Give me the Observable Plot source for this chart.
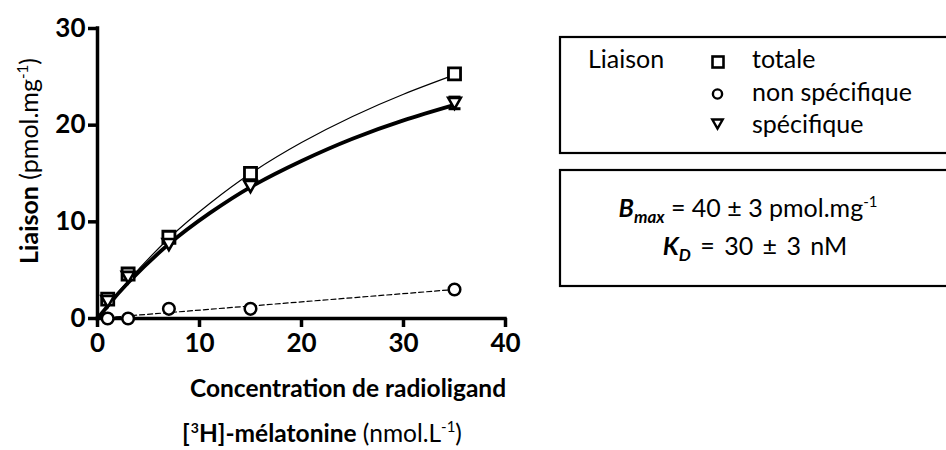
<!DOCTYPE html>
<html>
<head>
<meta charset="utf-8">
<script src="https://cdn.jsdelivr.net/npm/d3@7"></script>
<script src="https://cdn.jsdelivr.net/npm/@observablehq/plot@0.6"></script>
<style>
  html, body { margin: 0; padding: 0; background: #fff; }
  #wrap { position: relative; width: 946px; height: 450px; overflow: hidden; }
  #wrap svg { position: absolute; left: 0; top: 0; }
</style>
</head>
<body>
<div id="wrap"></div>
<script>
// ---- data ----
const conc = [1, 3, 7, 15, 35];                 // nmol/L
const totale = [2.0, 4.6, 8.4, 15.0, 25.3];
const nonSpecifique = [0.0, 0.0, 1.0, 1.0, 3.0];
const specifique = [1.8, 4.3, 7.7, 13.7, 22.3];
const specErr = [0, 0, 0, 0, 0.6];

// fitted curves
const fitX = [0, 1, 3, 7, 11, 15, 20, 25, 30, 35];
const totFit = [0, 1.4, 3.9, 8.3, 11.9, 15.0, 18.2, 20.9, 23.2, 25.2];
const specFit = [0, 1.3, 3.7, 7.7, 10.9, 13.6, 16.3, 18.6, 20.5, 22.1];
const nsFitX = [1, 35];
const nsFit = [0.1, 3.0];

const xTicks = [0, 10, 20, 30, 40];
const yTicks = [0, 10, 20, 30];

const legendLabels = ["totale", "non spécifique", "spécifique"];

// ---- tables ----
const pts = conc.map((c, i) => ({c, tot: totale[i], ns: nonSpecifique[i], sp: specifique[i], err: specErr[i]}));
const totLine = fitX.map((c, i) => ({c, v: totFit[i]}));
const spLine = fitX.map((c, i) => ({c, v: specFit[i]}));
const nsLine = nsFitX.map((c, i) => ({c, v: nsFit[i]}));
const errPts = pts.filter(d => d.err > 0);

const triDown = {
  draw(ctx, size) {
    const t = Math.sqrt(size / Math.PI);
    ctx.moveTo(-t, -t * 0.8);
    ctx.lineTo(t, -t * 0.8);
    ctx.lineTo(0, t * 0.95);
    ctx.closePath();
  }
};
const capSym = {
  draw(ctx, size) {
    const t = Math.sqrt(size / Math.PI);
    ctx.moveTo(-t, 0);
    ctx.lineTo(t, 0);
  }
};

const FONT = "Lato, 'Open Sans', sans-serif";

const chart = Plot.plot({
  width: 946,
  height: 450,
  marginLeft: 97,
  marginRight: 441,
  marginTop: 28,
  marginBottom: 132,
  x: {domain: [0, 40]},
  y: {domain: [0, 30]},
  style: {fontFamily: FONT, fontWeight: "bold", fontSize: "26px", color: "#000", background: "transparent"},
  marks: [
    Plot.axisX({ticks: xTicks, tickSize: 9, tickPadding: 6, strokeWidth: 3.5, label: null, fontSize: 26}),
    Plot.axisY({ticks: yTicks, tickSize: 9, tickPadding: 3, strokeWidth: 3.5, label: null, fontSize: 26}),
    Plot.ruleY([0], {stroke: "#000", strokeWidth: 3.5, strokeLinecap: "square"}),
    Plot.ruleX([0], {y1: 0, y2: 30, stroke: "#000", strokeWidth: 3.5, strokeLinecap: "square"}),
    Plot.line(nsLine, {x: "c", y: "v", stroke: "#000", strokeWidth: 1.2, strokeDasharray: "5,3"}),
    Plot.line(totLine, {x: "c", y: "v", stroke: "#000", strokeWidth: 1.2, curve: "natural"}),
    Plot.line(spLine, {x: "c", y: "v", stroke: "#000", strokeWidth: 3.8, curve: "natural"}),
    Plot.ruleX(errPts, {x: "c", y1: d => d.sp - d.err, y2: d => d.sp + d.err, stroke: "#000", strokeWidth: 2.5}),
    Plot.dot(errPts, {x: "c", y: d => d.sp - d.err, symbol: capSym, r: 6, stroke: "#000", strokeWidth: 3, fill: "none"}),
    Plot.dot(errPts, {x: "c", y: d => d.sp + d.err, symbol: capSym, r: 6, stroke: "#000", strokeWidth: 3, fill: "none"}),
    Plot.dot(pts, {x: "c", y: "ns", symbol: "circle", r: 5.8, stroke: "#000", strokeWidth: 2.5, fill: "#fff"}),
    Plot.dot(pts, {x: "c", y: "tot", symbol: "square", r: 6.8, stroke: "#000", strokeWidth: 2.8, fill: "#fff"}),
    Plot.dot(pts, {x: "c", y: "sp", symbol: triDown, r: 6.3, stroke: "#000", strokeWidth: 2.6, fill: "#fff"})
  ]
});
const wrap = document.getElementById("wrap");
wrap.appendChild(chart);

// ---- overlay: titles and legend as real SVG text ----
const legendSyms = [
  '<rect x="712.5" y="56.5" width="11" height="11" fill="#fff" stroke="#000" stroke-width="2.6"/>',
  '<circle cx="717.5" cy="94" r="4.6" fill="#fff" stroke="#000" stroke-width="2.4"/>',
  '<path d="M712.3,119.5 L722.7,119.5 L717.5,128.5 Z" fill="#fff" stroke="#000" stroke-width="2.4"/>'
];
const legendBase = [68, 101, 133];

let ov = `<svg width="946" height="450" xmlns="http://www.w3.org/2000/svg" style="font-family:${FONT}; fill:#000;">
  <text transform="translate(38,161) rotate(-90)" text-anchor="middle" font-size="25">
    <tspan font-weight="bold">Liaison</tspan> (pmol.mg<tspan font-size="15" dy="-10">-1</tspan><tspan dy="10">)</tspan>
  </text>
  <text x="348" y="397" text-anchor="middle" font-size="24.5" font-weight="bold">Concentration de radioligand</text>
  <text x="322" y="442" text-anchor="middle" font-size="24.5">
    <tspan font-weight="bold">[</tspan><tspan font-weight="bold" font-size="14" dy="-9" dx="1">3</tspan><tspan font-weight="bold" dy="9">H]-mélatonine</tspan> (nmol.L<tspan font-size="15" dy="-10">-1</tspan><tspan dy="10">)</tspan>
  </text>
  <rect x="560" y="37" width="420" height="116" fill="none" stroke="#000" stroke-width="2.2"/>
  <text x="588" y="68" font-size="25">Liaison</text>
`;
legendLabels.forEach((lab, i) => {
  ov += legendSyms[i];
  ov += `<text x="752" y="${legendBase[i]}" font-size="25">${lab}</text>`;
});
ov += `
  <rect x="560" y="170" width="420" height="116" fill="none" stroke="#000" stroke-width="2.2"/>
  <text x="748" y="217" text-anchor="middle" font-size="25">
    <tspan font-weight="bold" font-style="italic">B</tspan><tspan font-weight="bold" font-style="italic" font-size="17" dy="6">max</tspan><tspan dy="-6"> = 40 ± 3 pmol.mg</tspan><tspan font-size="15" dy="-10">-1</tspan>
  </text>
  <text x="755" y="255" text-anchor="middle" font-size="25" word-spacing="3">
    <tspan font-weight="bold" font-style="italic">K</tspan><tspan font-weight="bold" font-style="italic" font-size="17" dy="6">D</tspan><tspan dy="-6"> = 30 ± 3 nM</tspan>
  </text>
</svg>`;
wrap.insertAdjacentHTML("beforeend", ov);
</script>
</body>
</html>
